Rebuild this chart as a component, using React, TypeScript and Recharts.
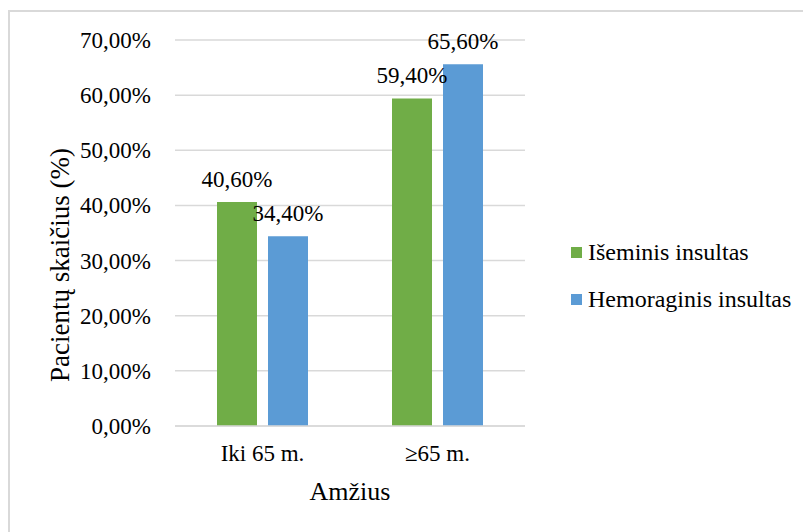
import React from 'react';
import { BarChart, Bar, XAxis, YAxis, CartesianGrid, Legend, LabelList, Label } from 'recharts';

// Age groups and share of patients (%) per stroke type
const ageGroups = ['Iki 65 m.', '≥65 m.'];
const ischemic = [40.6, 59.4];
const hemorrhagic = [34.4, 65.6];
const yTicks = [0, 10, 20, 30, 40, 50, 60, 70];

const seriesNames = { isch: 'Išeminis insultas', hem: 'Hemoraginis insultas' };
const colors = { isch: '#70ad47', hem: '#5b9bd5' };
const legendOrder = [seriesNames.isch, seriesNames.hem];

const rows = ageGroups.map((g, i) => ({ group: g, isch: ischemic[i], hem: hemorrhagic[i] }));

const FONT = 'Liberation Serif, Times New Roman, serif';
const pct = (v: number) => v.toFixed(2).replace('.', ',') + '%';

const LegendBox = (props: any) => {
  const items = [...(props.payload || [])].sort(
    (a: any, b: any) => legendOrder.indexOf(a.value) - legendOrder.indexOf(b.value)
  );
  return (
    <div style={{ fontFamily: FONT, fontSize: 24, color: '#000' }}>
      {items.map((it: any) => (
        <div key={it.value} style={{ display: 'flex', alignItems: 'center', height: 47, whiteSpace: 'nowrap' }}>
          <span style={{ display: 'inline-block', width: 11, height: 11, background: it.color, marginRight: 6 }} />
          <span>{it.value}</span>
        </div>
      ))}
    </div>
  );
};

// Category tick below the x axis
const XTick = (p: any) => (
  <text x={p.x} y={p.y + 29} textAnchor="middle" fontSize={23} fontFamily={FONT} fill="#000">
    {p.payload.value}
  </text>
);

// Percentage tick left of the plot, vertically centred on its gridline
const YTick = (p: any) => (
  <text x={p.x} y={p.y} dy="0.35em" textAnchor="end" fontSize={23} fontFamily={FONT} fill="#000">
    {pct(Number(p.payload.value))}
  </text>
);

// Value label above each bar
const ValueLabel = (p: any) => (
  <text x={p.x + p.width / 2} y={p.y - 15} textAnchor="middle" fontSize={23} fontFamily={FONT} fill="#000">
    {pct(Number(p.value))}
  </text>
);

export default function App() {
  return (
    <div style={{ position: 'absolute', left: 0, top: 0, width: 803, height: 532, overflow: 'hidden', background: '#fff', fontFamily: FONT }}>
      <div
        style={{
          position: 'absolute',
          left: 8,
          top: 10,
          width: 820,
          height: 560,
          border: '2px solid #d9d9d9',
          boxSizing: 'border-box',
        }}
      />
      <div style={{ position: 'absolute', left: 0, top: 0 }}>
        <BarChart
          width={803}
          height={532}
          data={rows}
          margin={{ top: 40, right: 278, bottom: 30, left: 0 }}
          barSize={40}
          barGap={11}
        >
          <CartesianGrid vertical={false} stroke="#d9d9d9" strokeWidth={1.5} />
          <XAxis
            dataKey="group"
            height={76}
            tickLine={false}
            axisLine={{ stroke: '#d9d9d9', strokeWidth: 1.5 }}
            tickMargin={0}
            interval={0}
            tick={<XTick />}
          >
            <Label
              content={(p: any) => {
                const vb = p.viewBox;
                return (
                  <text x={vb.x + vb.width / 2} y={vb.y + vb.height - 2} textAnchor="middle" fontSize={26} fontFamily={FONT} fill="#000">
                    Amžius
                  </text>
                );
              }}
            />
          </XAxis>
          <YAxis
            width={175}
            domain={[0, 70]}
            ticks={yTicks}
            axisLine={false}
            tickLine={false}
            tickMargin={18}
            tick={<YTick />}
          >
            <Label
              content={(p: any) => {
                const vb = p.viewBox;
                const cx = vb.x + 60;
                const cy = vb.y + vb.height / 2 + 32;
                return (
                  <text
                    x={cx}
                    y={cy}
                    transform={`rotate(-90 ${cx} ${cy})`}
                    textAnchor="middle"
                    dominantBaseline="central"
                    fontSize={27}
                    fontFamily={FONT}
                    fill="#000"
                  >
                    Pacientų skaičius (%)
                  </text>
                );
              }}
            />
          </YAxis>
          <Legend
            layout="horizontal"
            align="center"
            verticalAlign="middle"
            content={LegendBox}
            wrapperStyle={{ left: 571, top: 229, width: 232 }}
          />
          <Bar dataKey="isch" name={seriesNames.isch} fill={colors.isch} isAnimationActive={false}>
            <LabelList dataKey="isch" content={<ValueLabel />} />
          </Bar>
          <Bar dataKey="hem" name={seriesNames.hem} fill={colors.hem} isAnimationActive={false}>
            <LabelList dataKey="hem" content={<ValueLabel />} />
          </Bar>
        </BarChart>
      </div>
    </div>
  );
}
